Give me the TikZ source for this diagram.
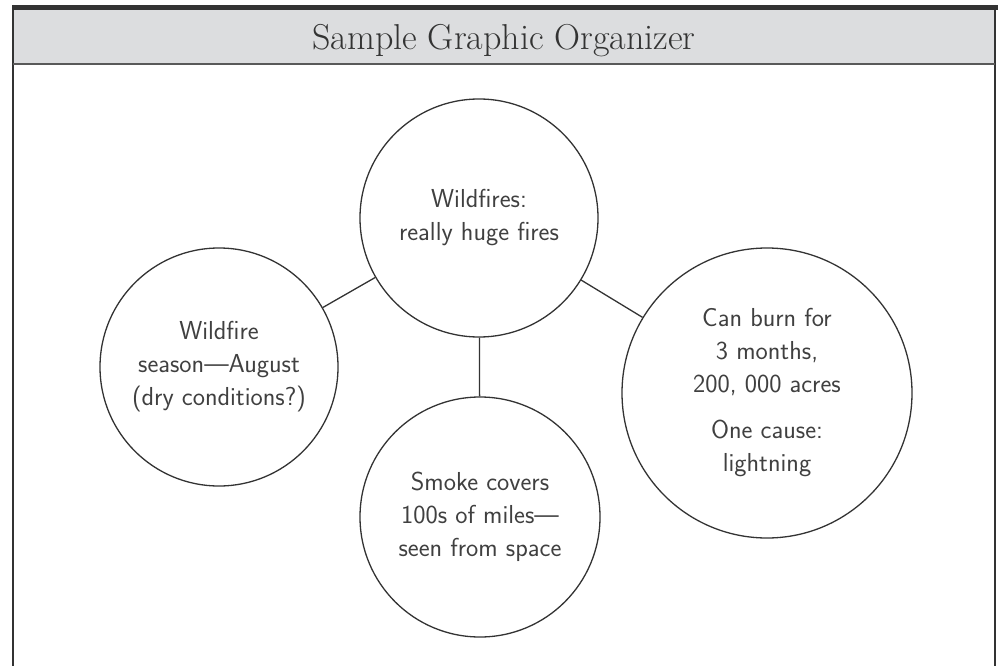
\documentclass[tikz,border=0pt]{standalone}
\usepackage{fontspec}
\usepackage{xcolor}
\usepackage{tikz}
\usetikzlibrary{shapes,positioning,calc}

\definecolor{headgray}{HTML}{DCDDDF}
\definecolor{inkgray}{HTML}{333333}
\definecolor{textgray}{HTML}{404040}

\begin{document}
\begin{tikzpicture}[
    x=1pt, y=-1pt,
    bubble/.style={circle, draw=inkgray, line width=1.3pt, align=center,
        inner sep=0pt, text=textgray,
        font=\sffamily\fontsize{26}{33}\selectfont},
    link/.style={draw=inkgray, line width=1.3pt},
    frame/.style={draw=inkgray, line width=2pt}
]
\useasboundingbox (0,0) rectangle (998,666);

% Header
\fill[headgray] (13,10) rectangle (995,64);
\fill[inkgray] (13,5) rectangle (998,10);
\draw[frame] (13,5) -- (13,666);
\draw[frame] (995,5) -- (995,666);
\draw[draw=black!65, line width=2pt] (13,64) -- (995,64);
\node[font=\fontsize{36}{42}\selectfont, text=inkgray, anchor=base] (title) at (504,50) {Sample Graphic Organizer};

% Circles
\node[bubble, minimum size=238pt] (hub) at (479,218) {Wildfires:\\really huge fires};
\node[bubble, minimum size=238pt] (season) at (219,367) {Wildfire\\season---August\\(dry conditions?)};
\node[bubble, minimum size=240pt] (smoke) at (480,517) {Smoke covers\\100s of miles---\\seen from space};
\node[bubble, minimum size=290pt] (burn) at (767,393) {Can burn for\\3 months,\\200, 000 acres\\[13pt]One cause:\\lightning};

% Links
\draw[link] (hub) -- (season);
\draw[link] (hub) -- (smoke);
\draw[link] (hub) -- (burn);

\end{tikzpicture}
\end{document}
